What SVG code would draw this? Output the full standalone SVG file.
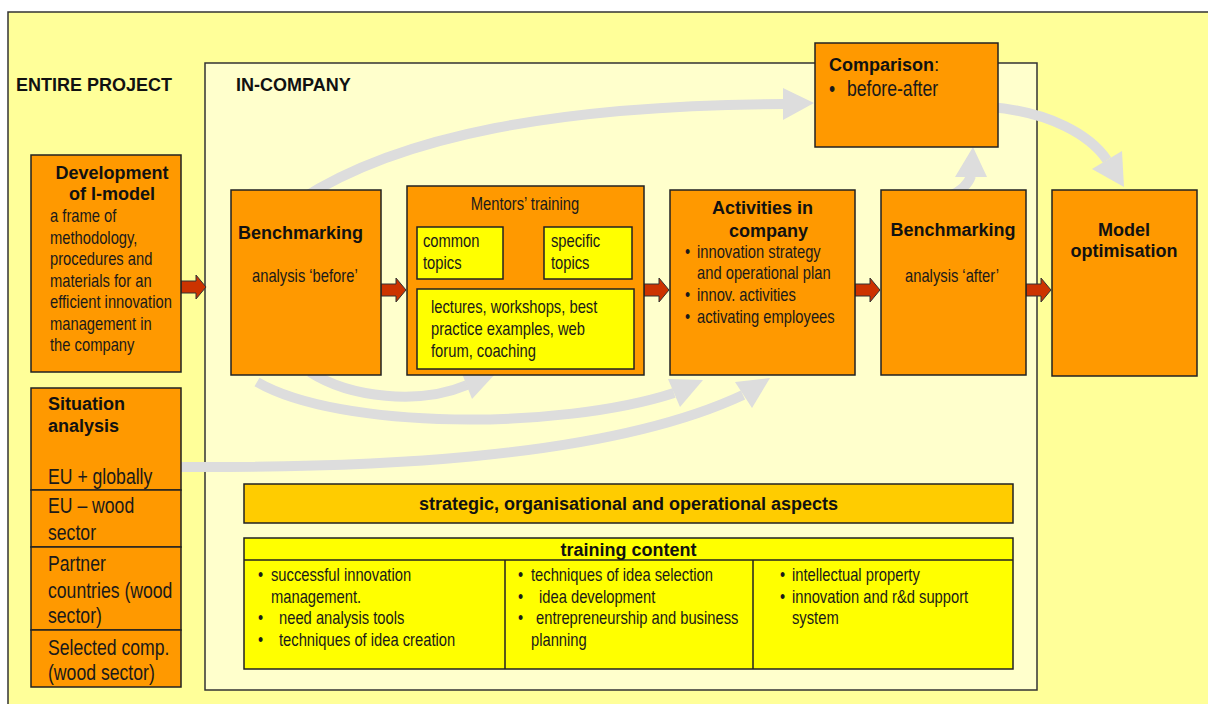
<svg xmlns="http://www.w3.org/2000/svg" width="1208" height="704" viewBox="0 0 1208 704">
<style>
.n{font-family:'Liberation Sans',Arial,sans-serif;font-size:18px;fill:#1a1a1a;transform-box:fill-box;transform-origin:0 0;transform:scaleX(0.82)}
.nl{font-family:'Liberation Sans',Arial,sans-serif;font-size:21.5px;fill:#1a1a1a;transform-box:fill-box;transform-origin:0 0;transform:scaleX(0.82)}
.b{font-family:'Liberation Sans',Arial,sans-serif;font-size:18px;font-weight:bold;fill:#111}
.c{text-anchor:middle}
.n.c{transform-origin:50% 0}
.box{fill:#FF9900;stroke:#222;stroke-width:1.5}
.ybox{fill:#FFFF00;stroke:#222;stroke-width:1.5}
.g{fill:none;stroke:#DDDDDD;stroke-width:10}
.gh{fill:#DDDDDD}
.ra{fill:#CC3300;stroke:#333;stroke-width:1}
</style>
<defs>
<path id="ra" d="M0,-6 H15 V-12 L25,0 L15,12 V6 H0 Z"/>
</defs>
<rect width="1208" height="704" fill="#ffffff"/>
<g id="entire-project">
<rect x="8" y="12" width="1210" height="710" fill="#FFFF99" stroke="#333" stroke-width="1.5"/>
<text class="b" x="16" y="91">ENTIRE PROJECT</text>
</g>
<g id="in-company">
<rect x="205" y="63" width="832" height="627" fill="#FFFFCC" stroke="#333" stroke-width="1.5"/>
<text class="b" x="236" y="91">IN-COMPANY</text>
</g>
<g id="connectors">
<path class="g" d="M300 200 C400 135,560 105,785 104"/>
<polygon class="gh" points="783,88 814,103 783,120"/>
<path class="g" d="M950 196 Q967 188 971 176"/>
<polygon class="gh" points="955,177 987,177 973,147"/>
<path class="g" d="M990 107 C1050 112,1090 135,1107 160"/>
<polygon class="gh" points="1092,169 1122,151 1124,187"/>
<path class="g" d="M310 372 C350 398,420 405,467 385"/>
<polygon class="gh" points="461,371 496,373 472,399"/>
<path class="g" d="M257 382 C340 430,560 430,674 393"/>
<polygon class="gh" points="668,379 703,380 680,407"/>
<path class="g" d="M175 467 C350 468,600 462,743 395"/>
<polygon class="gh" points="735,382 770,378 752,408"/>
<use href="#ra" class="ra" x="181" y="287"/>
<use href="#ra" class="ra" x="381" y="290"/>
<use href="#ra" class="ra" x="644" y="290"/>
<use href="#ra" class="ra" x="855" y="290"/>
<use href="#ra" class="ra" x="1026" y="290"/>
</g>
<g id="development">
<rect class="box" x="31" y="155" width="150" height="217"/>
<text class="b c" x="112" y="179">Development</text>
<text class="b c" x="112" y="200">of I-model</text>
<text class="n" x="50" y="222">a frame of</text>
<text class="n" x="50" y="244">methodology,</text>
<text class="n" x="50" y="265">procedures and</text>
<text class="n" x="50" y="287">materials for an</text>
<text class="n" x="50" y="308">efficient innovation</text>
<text class="n" x="50" y="330">management in</text>
<text class="n" x="50" y="351">the company</text>
</g>
<g id="situation">
<rect class="box" x="31" y="388" width="150" height="102"/>
<rect class="box" x="31" y="490" width="150" height="57"/>
<rect class="box" x="31" y="547" width="150" height="83"/>
<rect class="box" x="31" y="630" width="150" height="57"/>
<text class="b" x="48" y="410">Situation</text>
<text class="b" x="48" y="432">analysis</text>
<text class="nl" x="48" y="484">EU + globally</text>
<text class="nl" x="48" y="513">EU – wood</text>
<text class="nl" x="48" y="540">sector</text>
<text class="nl" x="48" y="571">Partner</text>
<text class="nl" x="48" y="598">countries (wood</text>
<text class="nl" x="48" y="623">sector)</text>
<text class="nl" x="48" y="655">Selected comp.</text>
<text class="nl" x="48" y="680">(wood sector)</text>
</g>
<g id="benchmarking-before">
<rect class="box" x="231" y="190" width="150" height="185"/>
<text class="b" x="238" y="239">Benchmarking</text>
<text class="n" x="252" y="282">analysis ‘before’</text>
</g>
<g id="mentors-training">
<rect class="box" x="407" y="186" width="237" height="189"/>
<text class="n c" x="525" y="210">Mentors’ training</text>
<rect class="ybox" x="417" y="227" width="86" height="52"/>
<text class="n" x="423" y="247">common</text>
<text class="n" x="423" y="269">topics</text>
<rect class="ybox" x="544" y="227" width="88" height="52"/>
<text class="n" x="551" y="247">specific</text>
<text class="n" x="551" y="269">topics</text>
<rect class="ybox" x="417" y="289" width="217" height="80"/>
<text class="n" x="431" y="313">lectures, workshops, best</text>
<text class="n" x="431" y="335">practice examples, web</text>
<text class="n" x="431" y="357">forum, coaching</text>
</g>
<g id="activities">
<rect class="box" x="670" y="190" width="185" height="185"/>
<text class="b" x="712" y="214">Activities in</text>
<text class="b" x="729" y="237">company</text>
<text class="n" x="685" y="258">•</text>
<text class="n" x="697" y="258">innovation strategy</text>
<text class="n" x="697" y="279">and operational plan</text>
<text class="n" x="685" y="301">•</text>
<text class="n" x="697" y="301">innov. activities</text>
<text class="n" x="685" y="323">•</text>
<text class="n" x="697" y="323">activating employees</text>
</g>
<g id="benchmarking-after">
<rect class="box" x="881" y="190" width="145" height="185"/>
<text class="b c" x="953" y="236">Benchmarking</text>
<text class="n c" x="952" y="282">analysis ‘after’</text>
</g>
<g id="comparison">
<rect class="box" x="815" y="43" width="183" height="104"/>
<text x="829" y="71"><tspan class="b">Comparison</tspan><tspan style="font-family:'Liberation Sans',Arial,sans-serif;font-size:19px;fill:#1a1a1a">:</tspan></text>
<text class="nl" x="829" y="96">•</text>
<text class="nl" x="847" y="96">before-after</text>
</g>
<g id="model-optimisation">
<rect class="box" x="1052" y="190" width="145" height="186"/>
<text class="b c" x="1124" y="236">Model</text>
<text class="b c" x="1124" y="257">optimisation</text>
</g>
<g id="aspects">
<rect x="244" y="484" width="769" height="39" fill="#FFCC00" stroke="#222" stroke-width="1.5"/>
<text class="b c" x="628.5" y="510">strategic, organisational and operational aspects</text>
</g>
<g id="training-content">
<rect class="ybox" x="244" y="538" width="769" height="131"/>
<line x1="244" y1="560" x2="1013" y2="560" stroke="#222" stroke-width="1.5"/>
<line x1="505" y1="560" x2="505" y2="669" stroke="#222" stroke-width="1.5"/>
<line x1="753" y1="560" x2="753" y2="669" stroke="#222" stroke-width="1.5"/>
<text class="b c" x="628.5" y="556">training content</text>
<text class="n" x="258" y="581">•</text>
<text class="n" x="271" y="581">successful innovation</text>
<text class="n" x="271" y="603">management.</text>
<text class="n" x="258" y="624">•</text>
<text class="n" x="279" y="624">need analysis tools</text>
<text class="n" x="258" y="646">•</text>
<text class="n" x="279" y="646">techniques of idea creation</text>
<text class="n" x="518" y="581">•</text>
<text class="n" x="531" y="581">techniques of idea selection</text>
<text class="n" x="518" y="603">•</text>
<text class="n" x="539" y="603">idea development</text>
<text class="n" x="518" y="624">•</text>
<text class="n" x="536" y="624">entrepreneurship and business</text>
<text class="n" x="531" y="646">planning</text>
<text class="n" x="780" y="581">•</text>
<text class="n" x="792" y="581">intellectual property</text>
<text class="n" x="780" y="603">•</text>
<text class="n" x="792" y="603">innovation and r&amp;d support</text>
<text class="n" x="792" y="624">system</text>
</g>
</svg>
